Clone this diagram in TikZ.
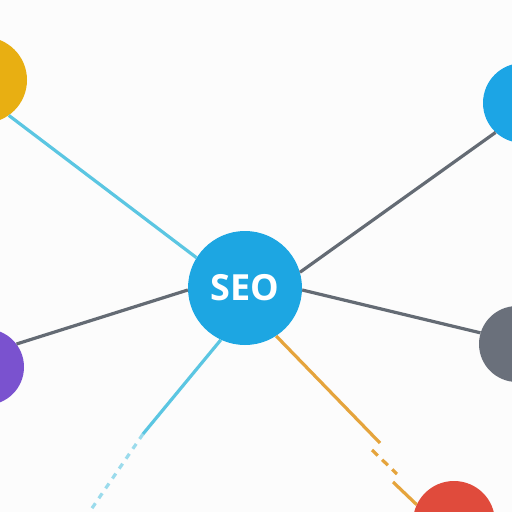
\documentclass[tikz,border=0pt]{standalone}
\usepackage{fontspec}
\setmainfont{Open Sans}
\definecolor{bgc}{HTML}{FCFCFC}
\definecolor{seob}{HTML}{1DA6E2}
\definecolor{yel}{HTML}{E8AF12}
\definecolor{trb}{HTML}{1CA5E5}
\definecolor{pur}{HTML}{7A52CF}
\definecolor{gry}{HTML}{6A707B}
\definecolor{redc}{HTML}{E04B3C}
\definecolor{cyl}{HTML}{5BC6E2}
\definecolor{dkl}{HTML}{646B74}
\definecolor{orl}{HTML}{E5A43C}
\begin{document}
\begin{tikzpicture}[x=1pt,y=-1pt,
  dot/.style={circle,inner sep=0pt,draw=none},
  link/.style={line width=3.2pt}]
\useasboundingbox (0,0) rectangle (512,512);
\clip (0,0) rectangle (512,512);
\fill[bgc] (0,0) rectangle (512,512);
\node[dot,fill=yel,minimum size=86pt] (yellow) at (-16,80) {};
\node[dot,fill=trb,minimum size=80pt] (tr) at (523,103) {};
\node[dot,fill=pur,minimum size=76pt] (purple) at (-14,367) {};
\node[dot,fill=gry,minimum size=76pt] (gray) at (517,344) {};
\node[dot,fill=redc,minimum size=82pt] (red) at (454,522) {};
\node[dot,fill=seob,minimum size=114pt,text=white,
  font=\fontsize{36}{36}\selectfont\bfseries] (seo) at (245,288) {SEO};
\coordinate (c1) at (143,434);
\coordinate (c2) at (88,514);
\coordinate (o1) at (380,443);
\coordinate (o2) at (372,450);
\coordinate (o3) at (397,474);
\coordinate (o4) at (393,482);
\draw[link,cyl] (seo.148) -- (yellow.-55);
\draw[link,dkl] (seo.16) -- (tr.227);
\draw[link,dkl] (seo.182) -- (purple.37);
\draw[link,dkl] (seo.-2) -- (gray.163);
\draw[link,cyl] (seo.245) -- (c1);
\draw[link,cyl,opacity=0.6,dash pattern=on 6pt off 6pt] (c1) -- (c2);
\draw[link,orl] (seo.-57) -- (o1);
\draw[link,orl,dash pattern=on 8pt off 6pt] (o2) -- (o3);
\draw[link,orl] (o4) -- (red.155);
\end{tikzpicture}
\end{document}
